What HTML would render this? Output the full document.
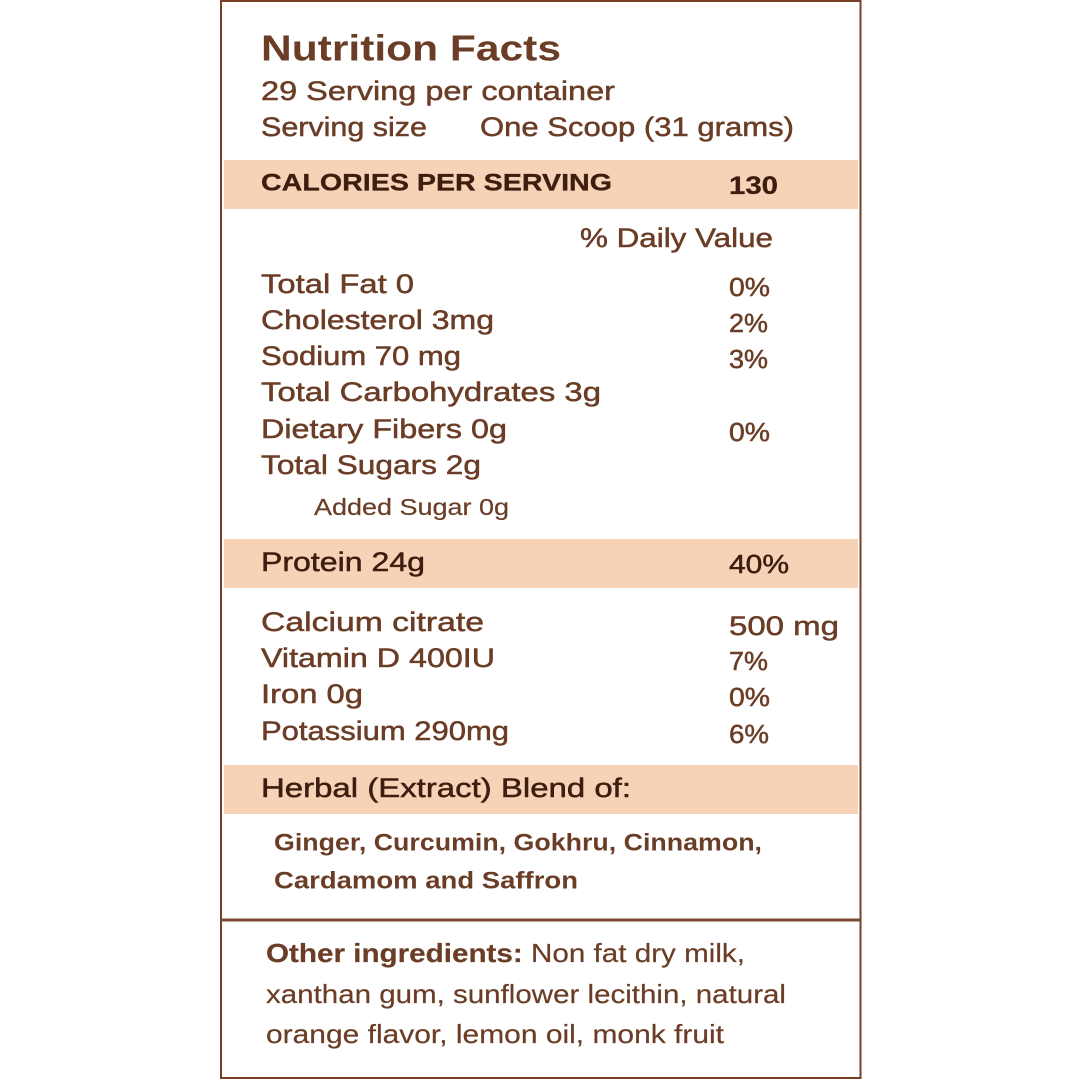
<!DOCTYPE html>
<html><head><meta charset="utf-8"><style>
html,body{margin:0;padding:0;background:#fff;width:1080px;height:1080px;overflow:hidden}
svg{display:block}
text{font-family:"Liberation Sans",sans-serif;fill:#6b3d26;dominant-baseline:central;stroke:#6b3d26;stroke-width:0.5}
.d{fill:#3e1d10;stroke:#3e1d10;font-weight:bold}
.b{font-weight:bold;stroke-width:0}
</style></head><body>
<svg width="1080" height="1080" viewBox="0 0 1080 1080">
<rect x="221" y="1" width="639.5" height="1077" fill="none" stroke="#7a3e25" stroke-width="2"/>
<line x1="221" y1="920" x2="861" y2="920" stroke="#7a4a30" stroke-width="3"/>
<rect x="224" y="160" width="634" height="49" fill="#f6d2b6"/>
<rect x="224" y="539" width="634" height="49" fill="#f6d2b6"/>
<rect x="224" y="765" width="634" height="49" fill="#f6d2b6"/>

<text x="261" y="48" class="b" font-size="36" textLength="300" lengthAdjust="spacingAndGlyphs">Nutrition Facts</text>
<text x="261" y="91" font-size="27" textLength="354" lengthAdjust="spacingAndGlyphs">29 Serving per container</text>
<text x="261" y="127" font-size="27" textLength="166" lengthAdjust="spacingAndGlyphs">Serving size</text>
<text x="480" y="127" font-size="27" textLength="314" lengthAdjust="spacingAndGlyphs">One Scoop (31 grams)</text>

<text x="261" y="183" class="d" font-size="24" style="stroke-width:0.3" textLength="351" lengthAdjust="spacingAndGlyphs">CALORIES PER SERVING</text>
<text x="729" y="186" class="d" font-size="25" style="stroke-width:0.3" textLength="49" lengthAdjust="spacingAndGlyphs">130</text>

<text x="580" y="238" font-size="27" textLength="193" lengthAdjust="spacingAndGlyphs">% Daily Value</text>

<text x="261" y="284" font-size="27" textLength="153" lengthAdjust="spacingAndGlyphs">Total Fat 0</text>
<text x="729" y="287" font-size="26" textLength="41" lengthAdjust="spacingAndGlyphs">0%</text>
<text x="261" y="320" font-size="27" textLength="233" lengthAdjust="spacingAndGlyphs">Cholesterol 3mg</text>
<text x="729" y="323" font-size="26" textLength="39" lengthAdjust="spacingAndGlyphs">2%</text>
<text x="261" y="356" font-size="27" textLength="200" lengthAdjust="spacingAndGlyphs">Sodium 70 mg</text>
<text x="729" y="359" font-size="26" textLength="39" lengthAdjust="spacingAndGlyphs">3%</text>
<text x="261" y="392" font-size="27" textLength="340" lengthAdjust="spacingAndGlyphs">Total Carbohydrates 3g</text>
<text x="261" y="429" font-size="27" textLength="246" lengthAdjust="spacingAndGlyphs">Dietary Fibers 0g</text>
<text x="729" y="432" font-size="26" textLength="41" lengthAdjust="spacingAndGlyphs">0%</text>
<text x="261" y="465" font-size="27" textLength="220" lengthAdjust="spacingAndGlyphs">Total Sugars 2g</text>
<text x="314" y="507" font-size="23" style="stroke-width:0.2" textLength="195" lengthAdjust="spacingAndGlyphs">Added Sugar 0g</text>

<text x="261" y="562" class="d" font-size="27" style="font-weight:normal" textLength="164" lengthAdjust="spacingAndGlyphs">Protein 24g</text>
<text x="729" y="564" class="d" font-size="26" style="font-weight:normal" textLength="60" lengthAdjust="spacingAndGlyphs">40%</text>

<text x="261" y="622" font-size="27" textLength="223" lengthAdjust="spacingAndGlyphs">Calcium citrate</text>
<text x="729" y="626" font-size="27" textLength="110" lengthAdjust="spacingAndGlyphs">500 mg</text>
<text x="261" y="658" font-size="27" textLength="234" lengthAdjust="spacingAndGlyphs">Vitamin D 400IU</text>
<text x="729" y="661" font-size="26" textLength="39" lengthAdjust="spacingAndGlyphs">7%</text>
<text x="261" y="694" font-size="27" textLength="102" lengthAdjust="spacingAndGlyphs">Iron 0g</text>
<text x="729" y="697" font-size="26" textLength="41" lengthAdjust="spacingAndGlyphs">0%</text>
<text x="261" y="731" font-size="27" textLength="248" lengthAdjust="spacingAndGlyphs">Potassium 290mg</text>
<text x="729" y="734" font-size="26" textLength="40" lengthAdjust="spacingAndGlyphs">6%</text>

<text x="261" y="788" class="d" font-size="27" style="font-weight:normal" textLength="370" lengthAdjust="spacingAndGlyphs">Herbal (Extract) Blend of:</text>

<text x="274" y="843" class="b" font-size="24" textLength="488" lengthAdjust="spacingAndGlyphs">Ginger, Curcumin, Gokhru, Cinnamon,</text>
<text x="274" y="881" class="b" font-size="24" textLength="304" lengthAdjust="spacingAndGlyphs">Cardamom and Saffron</text>

<text x="266" y="953" font-size="26" style="stroke-width:0.2" textLength="479" lengthAdjust="spacingAndGlyphs"><tspan font-weight="bold">Other ingredients:</tspan> Non fat dry milk,</text>
<text x="266" y="994" font-size="26" style="stroke-width:0.2" textLength="520" lengthAdjust="spacingAndGlyphs">xanthan gum, sunflower lecithin, natural</text>
<text x="266" y="1034" font-size="26" style="stroke-width:0.2" textLength="458" lengthAdjust="spacingAndGlyphs">orange flavor, lemon oil, monk fruit</text>
</svg>
</body></html>
